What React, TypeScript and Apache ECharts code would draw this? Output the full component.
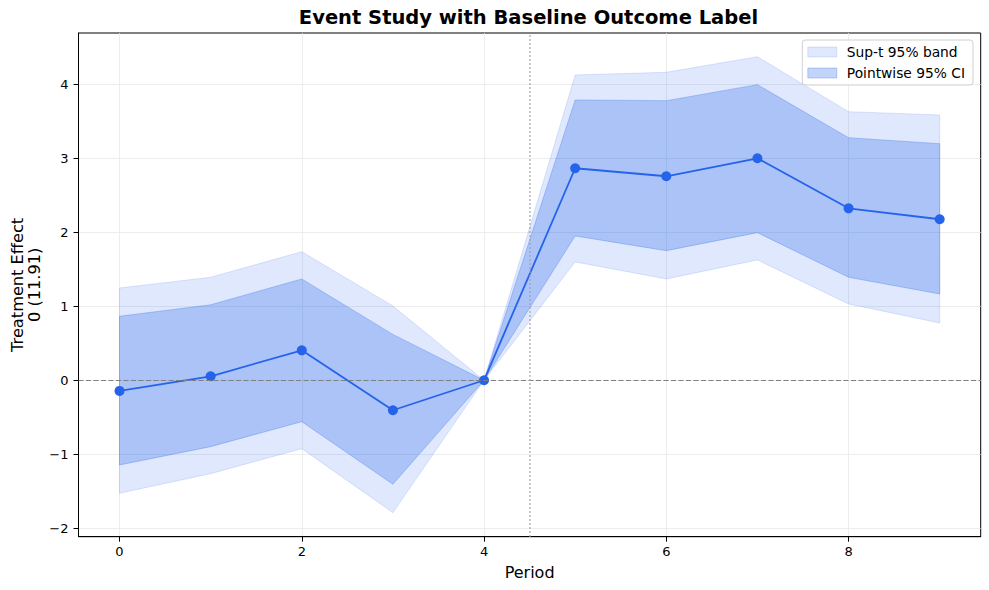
import React, { useEffect, useRef } from "react";
import * as echarts from "echarts";

const periods = [0, 1, 2, 3, 4, 5, 6, 7, 8, 9];
const estimates = [-0.144, 0.054, 0.405, -0.405, 0.0, 2.865, 2.757, 3.0, 2.324, 2.176];
const pointUpper = [0.865, 1.02, 1.369, 0.62, 0.0, 3.788, 3.778, 3.995, 3.278, 3.197];
const pointLower = [-1.145, -0.897, -0.559, -1.405, 0.0, 1.95, 1.751, 1.995, 1.392, 1.166];
const supUpper = [1.247, 1.392, 1.738, 1.004, 0.0, 4.126, 4.162, 4.373, 3.63, 3.585];
const supLower = [-1.527, -1.262, -0.924, -1.789, 0.0, 1.599, 1.369, 1.626, 1.031, 0.774];
const xTicks = [0, 2, 4, 6, 8];
const yTicks = [-2, -1, 0, 1, 2, 3, 4];
const treatmentStart = 4.5;

const FONT = "DejaVu Sans";
const BLUE = "#2563eb";
const SUP_FILL = "rgba(37,99,235,0.15)";
const PW_FILL = "rgba(37,99,235,0.28)";

function bandSeries(name: string, upper: number[], lower: number[], fill: string, z: number) {
  return {
    name,
    type: "custom",
    z,
    silent: true,
    clip: true,
    data: [[periods[0], upper[0]]],
    itemStyle: { color: fill },
    renderItem: (_params: any, api: any) => {
      const pts: number[][] = [];
      for (let i = 0; i < periods.length; i++) pts.push(api.coord([periods[i], upper[i]]));
      for (let i = periods.length - 1; i >= 0; i--) pts.push(api.coord([periods[i], lower[i]]));
      return {
        type: "polygon",
        shape: { points: pts },
        style: { fill, stroke: fill, lineWidth: 1 },
      };
    },
  };
}

const fmt = (v: number) => String(v).replace("-", "\u2212");

export default function App() {
  const ref = useRef<HTMLDivElement>(null);
  useEffect(() => {
    if (!ref.current) return;
    const chart = echarts.init(ref.current, undefined, { renderer: "svg" });
    chart.setOption({
      animation: false,
      backgroundColor: "#fff",
      textStyle: { fontFamily: FONT },
      title: {
        text: "Event Study with Baseline Outcome Label",
        left: 528.5,
        top: 7,
        padding: 0,
        textAlign: "center",
        textStyle: { fontFamily: FONT, fontSize: 19.5, fontWeight: "bold", color: "#000" },
      },
      legend: {
        orient: "vertical",
        right: 16,
        top: 40,
        itemWidth: 29,
        itemHeight: 10,
        itemGap: 7,
        padding: [5, 8, 5, 5],
        backgroundColor: "rgba(255,255,255,0.8)",
        borderColor: "#d0d0d0",
        borderWidth: 1,
        borderRadius: 3,
        icon: "rect",
        textStyle: { fontFamily: FONT, fontSize: 13.8, color: "#000", lineHeight: 14, padding: [0, 0, 0, 5] },
        data: [
          { name: "Sup-t 95% band", itemStyle: { color: SUP_FILL, borderColor: SUP_FILL, borderWidth: 1 } },
          { name: "Pointwise 95% CI", itemStyle: { color: PW_FILL, borderColor: PW_FILL, borderWidth: 1 } },
        ],
      },
      grid: {
        left: 78.5,
        right: 8.3,
        top: 33,
        bottom: 53.3,
        show: true,
        borderColor: "#000",
        borderWidth: 1,
        containLabel: false,
        outerBoundsMode: "none",
      },
      xAxis: {
        type: "value",
        min: -0.45,
        max: 9.45,
        name: "Period",
        nameLocation: "middle",
        nameGap: 28,
        nameMoveOverlap: false,
        nameTextStyle: { fontFamily: FONT, fontSize: 16, color: "#000" },
        axisLine: { show: true, onZero: false, lineStyle: { color: "#000", width: 1 } },
        axisTick: { show: true, length: 5, lineStyle: { color: "#000" }, customValues: xTicks },
        axisLabel: { customValues: xTicks, fontFamily: FONT, fontSize: 13, color: "#000", margin: 8, formatter: fmt },
        splitLine: { show: true, lineStyle: { color: "#e8e8e8", width: 0.8 } },
      },
      yAxis: {
        type: "value",
        min: -2.114,
        max: 4.693,
        name: "Treatment Effect\n0 (11.91)",
        nameLocation: "middle",
        nameRotate: 90,
        nameGap: 53,
        nameMoveOverlap: false,
        nameTextStyle: { fontFamily: FONT, fontSize: 16.2, color: "#000", lineHeight: 17, align: "center", verticalAlign: "middle" },
        axisLine: { show: true, onZero: false, lineStyle: { color: "#000", width: 1 } },
        axisTick: { show: true, length: 5, lineStyle: { color: "#000" }, customValues: yTicks },
        axisLabel: { customValues: yTicks, fontFamily: FONT, fontSize: 13, color: "#000", margin: 10, formatter: fmt },
        splitLine: { show: true, lineStyle: { color: "#e8e8e8", width: 0.8 } },
      },
      series: [
        bandSeries("Sup-t 95% band", supUpper, supLower, SUP_FILL, 1),
        bandSeries("Pointwise 95% CI", pointUpper, pointLower, PW_FILL, 2),
        {
          name: "Estimate",
          type: "line",
          z: 3,
          data: periods.map((p, i) => [p, estimates[i]]),
          symbol: "circle",
          symbolSize: 10,
          lineStyle: { color: BLUE, width: 1.8 },
          itemStyle: { color: BLUE },
          silent: true,
          markLine: {
            silent: true,
            symbol: "none",
            label: { show: false },
            data: [
              { yAxis: 0, lineStyle: { color: "#808080", type: [5, 2.5], width: 1.1 } },
              { xAxis: treatmentStart, lineStyle: { color: "#a0a0a0", type: [1.5, 2.5], width: 1.5 } },
            ],
          },
        },
      ],
    });
    return () => chart.dispose();
  }, []);
  return (
    <div
      ref={ref}
      style={{ position: "absolute", left: 0, top: 0, width: 989, height: 590 }}
    />
  );
}
